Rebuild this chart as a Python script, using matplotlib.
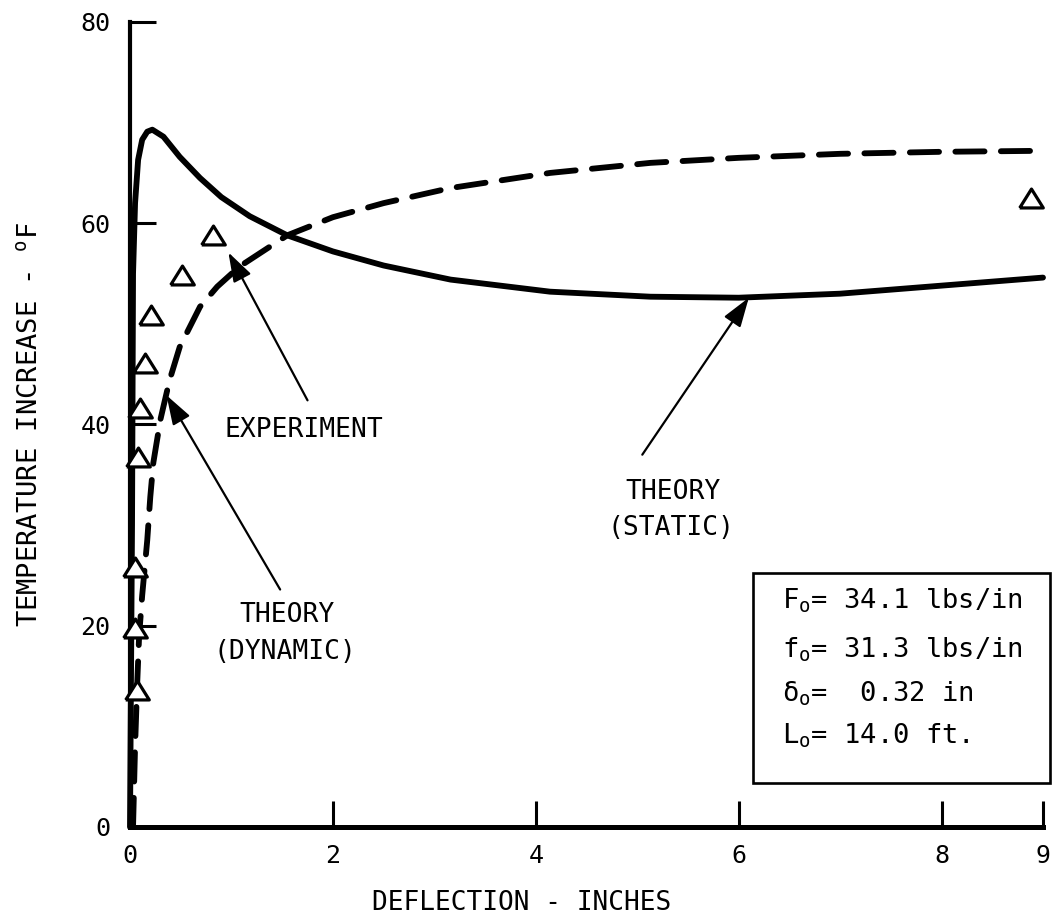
import matplotlib
matplotlib.use("Agg")
import matplotlib.pyplot as plt
from matplotlib.patches import Rectangle

plt.rcParams["font.family"] = ["DejaVu Sans Mono", "DejaVu Sans"]
plt.rcParams["mathtext.fontset"] = "custom"
plt.rcParams["mathtext.rm"] = "DejaVu Sans Mono"
plt.rcParams["mathtext.it"] = "DejaVu Sans Mono"

# Theory (static) - solid curve
static_x = [0.0, 0.02, 0.03, 0.05, 0.08, 0.12, 0.17, 0.22, 0.33, 0.49, 0.69,
            0.9, 1.18, 1.55, 2.0, 2.5, 3.16, 4.14, 5.13, 6.0, 7.0, 8.0, 9.0]
static_y = [0.0, 30.0, 55.0, 62.0, 66.3, 68.3, 69.1, 69.3, 68.6, 66.6, 64.5,
            62.6, 60.7, 58.8, 57.2, 55.8, 54.4, 53.2, 52.7, 52.6, 53.0, 53.8, 54.6]

# Theory (dynamic) - dashed curve
dynamic_x = [0.03, 0.05, 0.07, 0.09, 0.12, 0.17, 0.20, 0.23, 0.30, 0.39, 0.49,
             0.59, 0.69, 0.86, 1.08, 1.55, 2.0, 2.5, 3.16, 4.14, 5.13, 6.0, 7.0, 8.0, 9.0]
dynamic_y = [0.0, 8.0, 14.0, 19.0, 23.0, 28.5, 32.8, 36.2, 40.5, 44.4, 47.7,
             49.7, 51.7, 53.7, 55.7, 58.8, 60.6, 62.0, 63.5, 65.0, 66.0, 66.5, 66.9, 67.1, 67.2]

# Experiment - open triangles
exp_x = [0.07, 0.05, 0.05, 0.08, 0.10, 0.15, 0.21, 0.51, 0.82, 8.88]
exp_y = [13.6, 19.8, 25.8, 36.8, 41.6, 46.1, 50.9, 54.9, 58.8, 62.5]

x_ticks = [0, 2, 4, 6, 8, 9]
y_ticks = [0, 20, 40, 60, 80]

param_lines = [("F", "= 34.1 lbs/in"),
               ("f", "= 31.3 lbs/in"),
               ("δ", "=  0.32 in"),
               ("L", "= 14.0 ft.")]

fig = plt.figure(figsize=(10.54, 9.22), dpi=100)
ax = fig.add_axes([0.12334, 0.10304, 0.86622, 0.87310])

ax.plot(static_x, static_y, color="black", lw=4.2, solid_capstyle="round",
        solid_joinstyle="round", clip_on=False)
ax.plot(dynamic_x, dynamic_y, color="black", lw=4.2, linestyle=(0, (5.0, 2.8)),
        dash_capstyle="round", clip_on=False)

tri = [(-1, -0.8), (1, -0.8), (0, 0.8), (-1, -0.8)]
ax.plot(exp_x, exp_y, linestyle="none", marker=tri, markersize=17,
        markerfacecolor="white", markeredgecolor="black", markeredgewidth=2.3,
        clip_on=False, zorder=3)

ax.set_xlim(0, 9)
ax.set_ylim(0, 80)
ax.set_xticks(x_ticks)
ax.set_yticks(y_ticks)
ax.set_xticklabels([str(v) for v in x_ticks])
ax.set_yticklabels([str(v) for v in y_ticks])
ax.tick_params(direction="in", length=19, width=2.2, labelsize=18, color="black")
ax.tick_params(axis="x", pad=12)
ax.tick_params(axis="y", pad=14)

for side in ("top", "right"):
    ax.spines[side].set_visible(False)
ax.spines["left"].set_linewidth(3.0)
ax.spines["bottom"].set_linewidth(3.6)

ax.set_ylabel(r"TEMPERATURE INCREASE - $^{\rm o}$F", fontsize=19.5, va="center")
ax.yaxis.set_label_coords(-0.1095, 0.5)
ax.set_xlabel("DEFLECTION - INCHES", fontsize=18.8, va="center")
ax.xaxis.set_label_coords(0.429, -0.0944)

arrow_kw = dict(arrowstyle="-|>,head_length=0.9,head_width=0.3", color="black",
                lw=1.6, shrinkA=0, shrinkB=0, mutation_scale=20)
ax.annotate("", xy=(0.97, 57.1), xytext=(1.75, 42.4), arrowprops=arrow_kw)
ax.annotate("", xy=(0.36, 42.9), xytext=(1.48, 23.6), arrowprops=arrow_kw)
ax.annotate("", xy=(6.1, 52.6), xytext=(5.05, 37.0), arrowprops=arrow_kw)

label_kw = dict(fontsize=19, ha="center", va="center")
ax.text(1.71, 39.5, "EXPERIMENT", **label_kw)
ax.text(1.55, 21.1, "THEORY", **label_kw)
ax.text(1.53, 17.4, "(DYNAMIC)", **label_kw)
ax.text(5.35, 33.3, "THEORY", **label_kw)
ax.text(5.33, 29.7, "(STATIC)", **label_kw)

# Parameter box
ax.add_patch(Rectangle((6.14, 4.4), 2.93, 20.8, fill=False, edgecolor="black",
                       lw=1.9, clip_on=False, zorder=4))
line_y = [21.7, 16.8, 12.5, 8.3]
for (sym, rest), yy in zip(param_lines, line_y):
    label = r"$\mathrm{%s}_{\mathrm{o}}$%s" % (sym, rest)
    ax.text(6.43, yy, label, fontsize=19.5, ha="left", va="baseline",
            clip_on=False)

fig.savefig("out.png", dpi=100, facecolor="white")
